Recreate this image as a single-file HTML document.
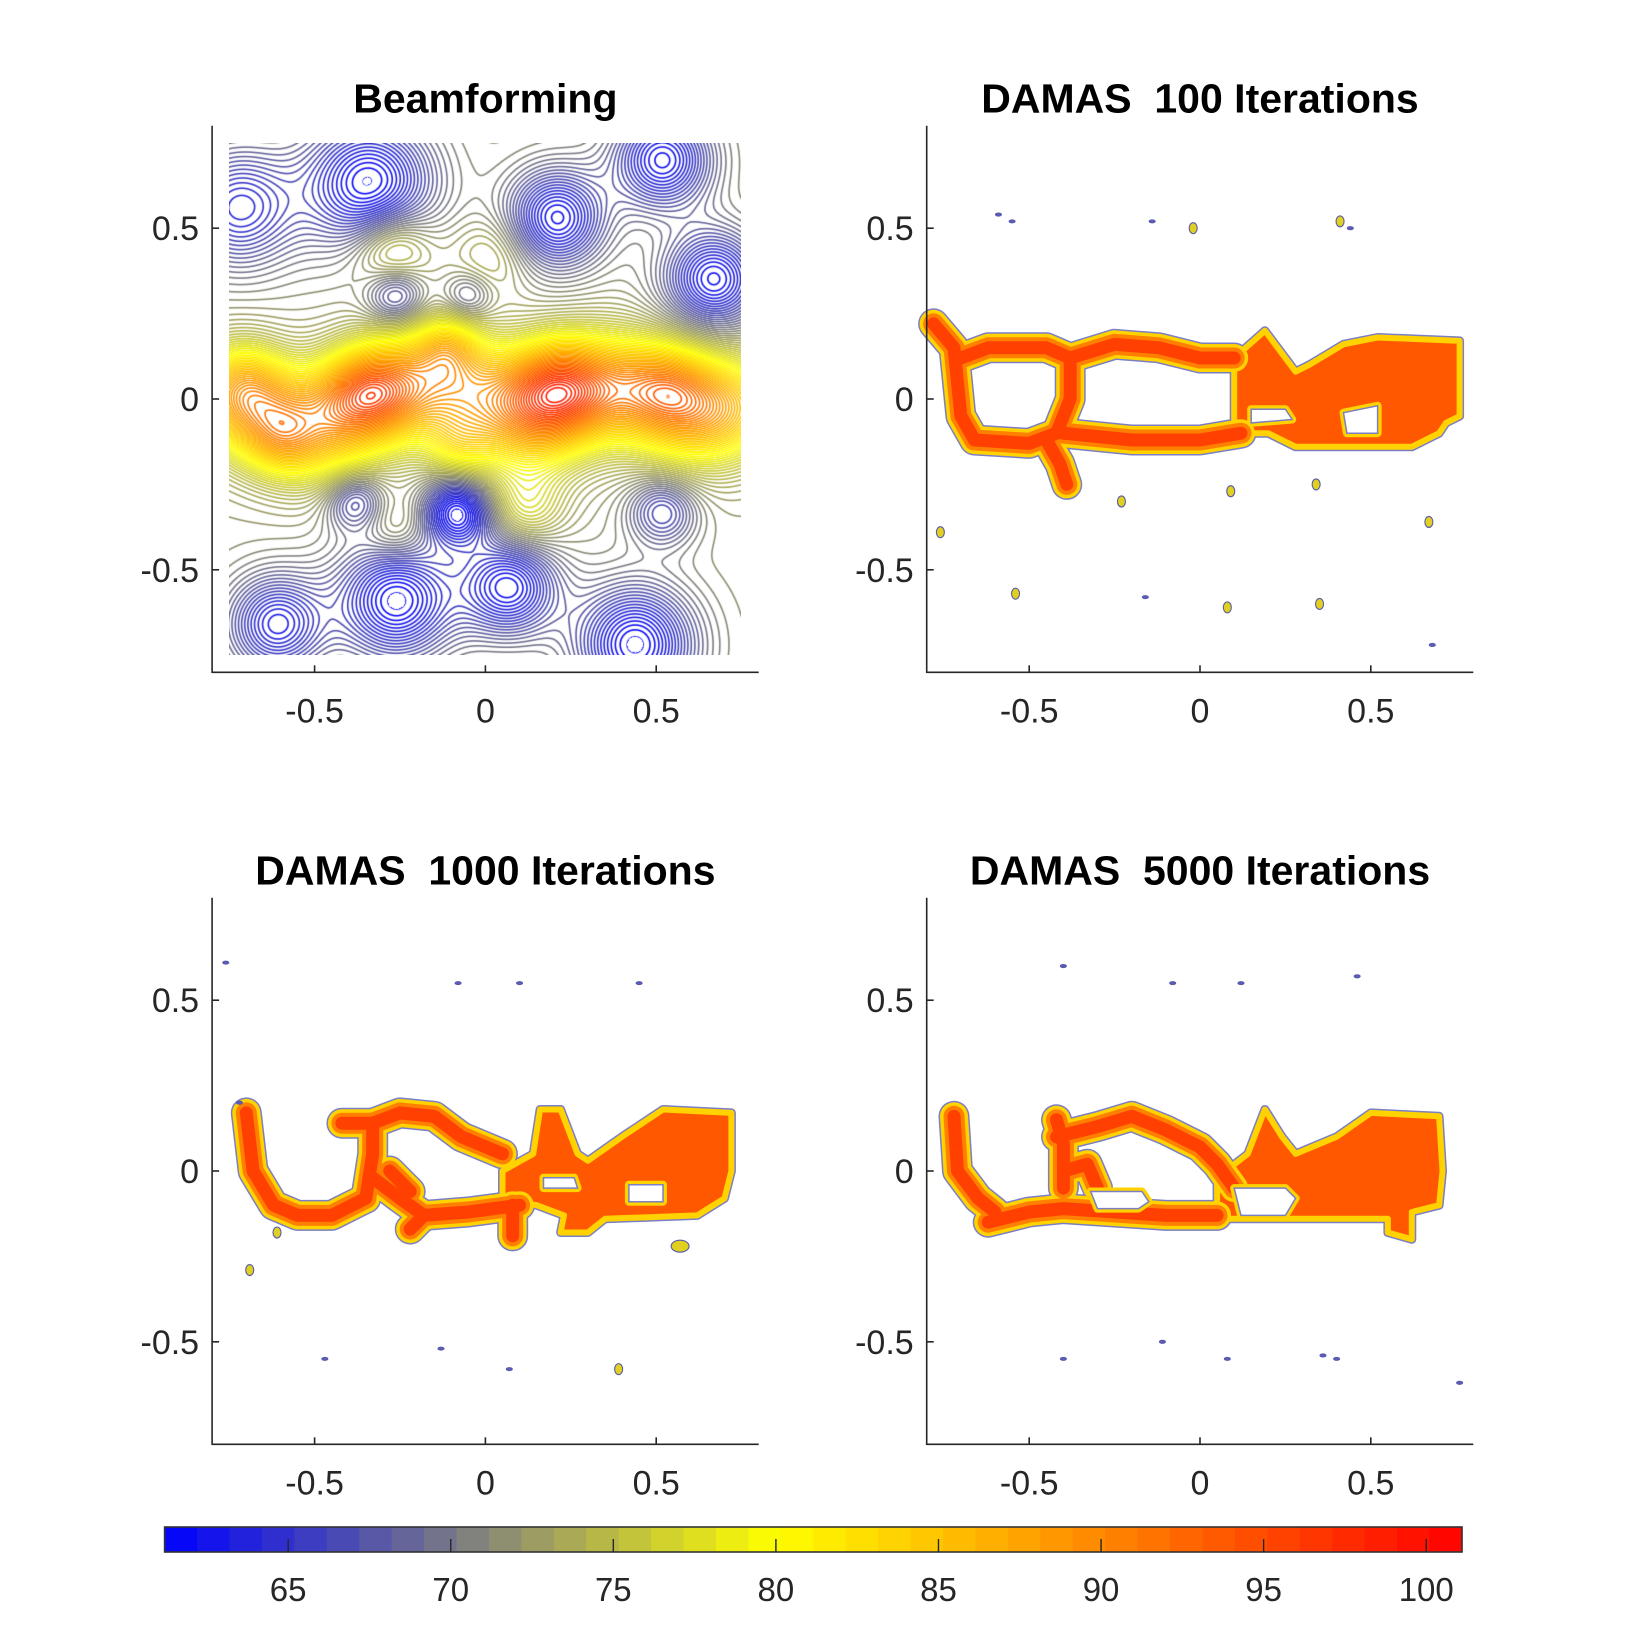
<!DOCTYPE html>
<html><head><meta charset="utf-8"><style>
html,body{margin:0;padding:0;background:#fff;}
#wrap{position:relative;width:1625px;height:1625px;overflow:hidden;font-family:"Liberation Sans",Arial,sans-serif;}
#bf{position:absolute;left:229px;top:143px;}
#svg{position:absolute;left:0;top:0;}
text{white-space:pre;}
</style></head><body>
<div id="wrap">
<canvas id="bf" width="512" height="512"></canvas>
<svg id="svg" width="1625" height="1625"></svg>
</div>
<script>
// ---------- data ----------
const titles = ["Beamforming", "DAMAS  100 Iterations", "DAMAS  1000 Iterations", "DAMAS  5000 Iterations"];
const axisTicks = [-0.5, 0, 0.5];
const axisTickLabels = ["-0.5", "0", "0.5"];
const cbTicks = [65, 70, 75, 80, 85, 90, 95, 100];
const cbMin = 61.2, cbMax = 101.1;
// beamforming sources (x, y, amplitude dB, sigma)
const srcX = [-0.75,-0.625,-0.5,-0.375,-0.25,-0.125,0,0.125,0.25,0.375,0.5,0.625,0.75,
  0.2,-0.345,0.546,-0.70,-0.11,-0.08,-0.6,
  -0.27,0.12,-0.26,0.02,
  -0.34,0.21,0.52,0.67,-0.08,-0.26,0.07,0.44,-0.61,-0.26,-0.38,0.52,-0.72,-0.05];
const srcY = [0.0,-0.05,-0.1,-0.02,0.02,0.08,0.0,-0.08,0.0,0.05,0.0,-0.05,-0.02,
  0.04,0.03,0.04,0.05,0.15,-0.14,-0.12,
  0.44,-0.32,-0.38,0.42,
  0.63,0.53,0.7,0.35,-0.33,-0.59,-0.55,-0.72,-0.66,0.3,-0.3,-0.33,0.56,0.3];
const srcAmp = [8,8,8,8,8,8,8,8,8,8,8,8,8,
  12,9,6,5,5,5,4,
  6,5,3,3,
  -11,-10,-10,-10,-11,-11,-10,-11,-9,-6,-6,-6,-8,-4];
const srcSig = [0.11,0.11,0.11,0.11,0.11,0.11,0.11,0.11,0.11,0.11,0.11,0.11,0.11,
  0.1,0.09,0.09,0.08,0.06,0.07,0.07,
  0.08,0.08,0.07,0.08,
  0.13,0.1,0.1,0.1,0.07,0.12,0.1,0.12,0.1,0.06,0.06,0.07,0.12,0.05];
const baseLevel = 72;

// DAMAS shapes (data coordinates)
const bands100 = [
 [[-0.78,0.22],[-0.72,0.15],[-0.70,-0.05],[-0.66,-0.12],[-0.5,-0.13],[-0.42,-0.1],[-0.38,0.0],[-0.38,0.12],[-0.45,0.15],[-0.62,0.15],[-0.70,0.12]],
 [[-0.38,0.12],[-0.25,0.16],[-0.12,0.15],[0.0,0.12],[0.1,0.12]],
 [[-0.4,-0.1],[-0.2,-0.12],[0.0,-0.12],[0.12,-0.1]],
 [[-0.45,-0.12],[-0.41,-0.19],[-0.39,-0.25]]
];
const blocks100 = [[[0.1,0.12],[0.19,0.2],[0.28,0.08],[0.32,0.1],[0.42,0.16],[0.52,0.18],[0.76,0.17],[0.76,-0.05],[0.72,-0.07],[0.70,-0.1],[0.62,-0.14],[0.28,-0.14],[0.2,-0.1],[0.1,-0.1]]];
const holes100 = [[[0.15,-0.03],[0.25,-0.03],[0.27,-0.06],[0.15,-0.07]],[[0.42,-0.04],[0.52,-0.02],[0.52,-0.1],[0.43,-0.1]]];
const specks100 = [[-0.59,0.54,'b'],[-0.55,0.52,'b'],[-0.14,0.52,'b'],[-0.02,0.5,'y'],[0.41,0.52,'y'],[0.44,0.5,'b'],[-0.23,-0.3,'y'],[0.09,-0.27,'y'],[0.34,-0.25,'y'],[0.67,-0.36,'y'],[-0.76,-0.39,'y'],[-0.54,-0.57,'y'],[-0.16,-0.58,'b'],[0.08,-0.61,'y'],[0.35,-0.6,'y'],[0.68,-0.72,'b']];

const bands1000 = [
 [[-0.70,0.17],[-0.68,0.0],[-0.62,-0.1],[-0.55,-0.13],[-0.45,-0.13],[-0.35,-0.08]],
 [[-0.35,-0.08],[-0.33,0.05],[-0.33,0.14],[-0.25,0.17],[-0.15,0.16],[-0.07,0.1],[0.05,0.05]],
 [[-0.42,0.14],[-0.33,0.14]],
 [[-0.33,-0.02],[-0.25,-0.08],[-0.18,-0.13],[-0.05,-0.12],[0.1,-0.1]],
 [[-0.28,0.0],[-0.22,-0.06]],
 [[-0.18,-0.13],[-0.22,-0.17]],
 [[0.08,-0.1],[0.08,-0.19]]
];
const blocks1000 = [[[0.05,0.0],[0.14,0.05],[0.16,0.18],[0.22,0.18],[0.27,0.05],[0.3,0.03],[0.4,0.1],[0.52,0.18],[0.72,0.17],[0.72,0.0],[0.7,-0.08],[0.62,-0.13],[0.35,-0.14],[0.3,-0.18],[0.22,-0.18],[0.23,-0.13],[0.15,-0.1],[0.05,-0.08]]];
const holes1000 = [[[0.17,-0.02],[0.26,-0.02],[0.27,-0.05],[0.17,-0.05]],[[0.42,-0.04],[0.52,-0.04],[0.52,-0.09],[0.42,-0.09]]];
const specks1000 = [[0.57,-0.22,'Y'],[-0.61,-0.18,'y'],[-0.69,-0.29,'y'],[-0.72,0.2,'b'],[-0.76,0.61,'b'],[-0.08,0.55,'b'],[0.1,0.55,'b'],[0.45,0.55,'b'],[-0.47,-0.55,'b'],[-0.13,-0.52,'b'],[0.07,-0.58,'b'],[0.39,-0.58,'y']];

const bands5000 = [
 [[-0.72,0.16],[-0.71,0.0],[-0.65,-0.08],[-0.6,-0.12]],
 [[-0.62,-0.15],[-0.5,-0.12],[-0.4,-0.11],[-0.25,-0.12],[-0.1,-0.13],[0.05,-0.13]],
 [[-0.4,-0.05],[-0.4,0.08],[-0.42,0.15]],
 [[-0.42,0.1],[-0.3,0.13],[-0.2,0.16],[-0.1,0.12],[0.0,0.07],[0.05,0.02],[0.1,-0.05]],
 [[-0.4,0.0],[-0.33,0.02],[-0.3,-0.05]]
];
const blocks5000 = [[[0.05,-0.13],[0.05,-0.02],[0.14,0.05],[0.19,0.18],[0.24,0.1],[0.28,0.05],[0.4,0.1],[0.5,0.17],[0.7,0.16],[0.71,0.0],[0.7,-0.1],[0.62,-0.12],[0.62,-0.2],[0.55,-0.18],[0.55,-0.14],[0.3,-0.14],[0.05,-0.14]]];
const holes5000 = [[[0.1,-0.05],[0.25,-0.05],[0.28,-0.08],[0.25,-0.13],[0.12,-0.13]],[[-0.32,-0.06],[-0.17,-0.06],[-0.15,-0.09],[-0.18,-0.11],[-0.3,-0.11]]];
const specks5000 = [[-0.4,0.6,'b'],[-0.08,0.55,'b'],[0.12,0.55,'b'],[0.46,0.57,'b'],[-0.4,-0.55,'b'],[-0.11,-0.5,'b'],[0.08,-0.55,'b'],[0.36,-0.54,'b'],[0.4,-0.55,'b'],[0.76,-0.62,'b']];

// ---------- layout ----------
const NS = 'http://www.w3.org/2000/svg';
const svg = document.getElementById('svg');
const cxs = [485.4, 1200, 485.4, 1200], cys = [399, 399, 1171, 1171];
const S = 341.6, H = 273.3;
function X(p, x){ return cxs[p] + x*S; }
function Y(p, y){ return cys[p] - y*S; }
function mk(tag, parent){ const e = document.createElementNS(NS, tag); parent.appendChild(e); return e; }
function cmap(v){
  const t = Math.max(cbMin, Math.min(cbMax, v));
  if (t <= 80){ const a = (t-cbMin)/(80-cbMin); return [255*a, 255*a, 255*(1-a)]; }
  const a = (t-80)/(cbMax-80); return [255, 255*(1-a), 0];
}
function rgb(c){ return 'rgb('+c.map(Math.round).join(',')+')'; }

// ---------- beamforming field ----------
(function(){
  const cv = document.getElementById('bf'), ctx = cv.getContext('2d');
  const N = 512, G = N+1, F = new Float32Array(G*G);
  for (let j=0;j<G;j++){ const y = 0.75 - j/N*1.5;
    for (let i=0;i<G;i++){ const x = -0.75 + i/N*1.5; let v = baseLevel;
      for (let k=0;k<srcX.length;k++){ const dx=x-srcX[k], dy=y-srcY[k], s=srcSig[k];
        v += srcAmp[k]*Math.exp(-(dx*dx+dy*dy)/(2*s*s)); }
      F[j*G+i] = Math.max(cbMin, Math.min(v, 101.4)); } }
  const img = ctx.createImageData(N, N), d = img.data, step = 0.5;
  for (let j=0;j<N;j++) for (let i=0;i<N;i++){
    const a=F[j*G+i], b=F[j*G+i+1], c=F[(j+1)*G+i], e=F[(j+1)*G+i+1];
    const v=(a+b+c+e)/4, gx=(b-a+e-c)/2, gy=(c-a+e-b)/2, g=Math.sqrt(gx*gx+gy*gy)+1e-6;
    const r=(v-cbMin)/step, lv=Math.round(r), dist=Math.abs(r-lv)*step/g;
    let al = Math.max(0, Math.min(1, 1.3-dist));
    if (v > 101.2 || v <= cbMin+0.01) al = 0;
    const col = cmap(cbMin+lv*step), o=(j*N+i)*4;
    d[o]=255+(col[0]-255)*al; d[o+1]=255+(col[1]-255)*al; d[o+2]=255+(col[2]-255)*al; d[o+3]=255;
  }
  ctx.putImageData(img,0,0);
})();

// ---------- DAMAS ----------
function pts(p, arr){ return arr.map(q => X(p,q[0]).toFixed(1)+','+Y(p,q[1]).toFixed(1)).join(' '); }
function drawDamas(p, bands, blocks, holes, specks, name){
  const g = mk('g', svg);
  
  
  const W = 28;
  const layers = [['#7b7fc4', W+3, 9], ['#ffd200', W, 6], ['#ff8000', W-7, 0], ['#ff4000', W-15, 0]];
  layers.forEach((L, li) => {
    blocks.forEach(b => { if (!L[2]) return;
      const e = mk('polygon', g);
      
      
      e.setAttribute('points', pts(p,b)); e.setAttribute('stroke', L[0]); e.setAttribute('stroke-width', L[2]);
      e.setAttribute('stroke-linejoin','round'); e.setAttribute('fill', li===0 ? L[0] : '#ff5800'); });
    bands.forEach(b => {
      const e = mk('polyline', g);
      
      
      e.setAttribute('points', pts(p,b)); e.setAttribute('stroke', L[0]); e.setAttribute('stroke-width', L[1]);
      e.setAttribute('stroke-linejoin','round'); e.setAttribute('stroke-linecap','round'); e.setAttribute('fill','none'); });
  });
  holes.forEach(h => {
    const e1 = mk('polygon', g);
    
    
    e1.setAttribute('points', pts(p,h)); e1.setAttribute('fill','none'); e1.setAttribute('stroke','#ffd200'); e1.setAttribute('stroke-width',8); e1.setAttribute('stroke-linejoin','round');
    const e2 = mk('polygon', g);
    
    
    e2.setAttribute('points', pts(p,h)); e2.setAttribute('fill','#fff'); e2.setAttribute('stroke','#7b7fc4'); e2.setAttribute('stroke-width',1.5);
  });
  specks.forEach(s => {
    const e = mk('ellipse', g);
    
    
    const big = s[2]==='Y';
    e.setAttribute('cx', X(p,s[0])); e.setAttribute('cy', Y(p,s[1]));
    e.setAttribute('rx', big?9:(s[2]==='y'?4:3)); e.setAttribute('ry', big?6:(s[2]==='y'?5.5:1.5));
    e.setAttribute('fill', s[2]==='b' ? '#5a5ac0' : '#e0d020'); e.setAttribute('stroke','#5a5aa8'); e.setAttribute('stroke-width',1.1);
  });
}
drawDamas(1, bands100, blocks100, holes100, specks100, 'damas-100');
drawDamas(2, bands1000, blocks1000, holes1000, specks1000, 'damas-1000');
drawDamas(3, bands5000, blocks5000, holes5000, specks5000, 'damas-5000');

// ---------- axes ----------
for (let p=0;p<4;p++){
  const L = cxs[p]-H, R = cxs[p]+H, T = cys[p]-H, B = cys[p]+H;
  const ax = mk('g', svg);
  
  
  const yl = mk('line', ax);
  
  
  yl.setAttribute('x1',L); yl.setAttribute('x2',L); yl.setAttribute('y1',T); yl.setAttribute('y2',B+0.7); yl.setAttribute('stroke','#262626'); yl.setAttribute('stroke-width',1.6);
  const xl = mk('line', ax);
  
  
  xl.setAttribute('x1',L); xl.setAttribute('x2',R); xl.setAttribute('y1',B); xl.setAttribute('y2',B); xl.setAttribute('stroke','#262626'); xl.setAttribute('stroke-width',1.6);
  axisTicks.forEach((t, k) => {
    const tx = mk('line', ax);
    
    
    tx.setAttribute('x1',X(p,t)); tx.setAttribute('x2',X(p,t)); tx.setAttribute('y1',B); tx.setAttribute('y2',B-7); tx.setAttribute('stroke','#262626'); tx.setAttribute('stroke-width',1.6);
    const ty = mk('line', ax);
    
    
    ty.setAttribute('x1',L); ty.setAttribute('x2',L+7); ty.setAttribute('y1',Y(p,t)); ty.setAttribute('y2',Y(p,t)); ty.setAttribute('stroke','#262626'); ty.setAttribute('stroke-width',1.6);
    const lx = mk('text', ax);
    
    
    lx.setAttribute('x', X(p,t)); lx.setAttribute('y', B+50); lx.setAttribute('text-anchor','middle');
    lx.setAttribute('font-size','34'); lx.setAttribute('fill','#262626'); lx.textContent = axisTickLabels[k];
    const ly = mk('text', ax);
    
    
    ly.setAttribute('x', L-13); ly.setAttribute('y', Y(p,t)+12); ly.setAttribute('text-anchor','end');
    ly.setAttribute('font-size','34'); ly.setAttribute('fill','#262626'); ly.textContent = axisTickLabels[k];
  });
  const tt = mk('text', ax);
  
  
  tt.setAttribute('x', cxs[p]); tt.setAttribute('y', T-13); tt.setAttribute('text-anchor','middle');
  tt.setAttribute('font-size','41'); tt.setAttribute('font-weight','bold'); tt.setAttribute('fill','#000'); tt.textContent = titles[p];
}

// ---------- colorbar ----------
(function(){
  const x0=164.6, x1=1462, y0=1527, y1=1552;
  const cb = mk('g', svg);
  
  
  const n = 40, w = (x1-x0)/n;
  for (let k=0;k<n;k++){
    const r = mk('rect', cb);
    
    
    r.setAttribute('x', x0+k*w); r.setAttribute('y', y0); r.setAttribute('width', w+0.6); r.setAttribute('height', y1-y0);
    r.setAttribute('fill', rgb(cmap(cbMin + (k+0.5)*(cbMax-cbMin)/n)));
  }
  const bd = mk('rect', cb);
  
  
  bd.setAttribute('x', x0); bd.setAttribute('y', y0); bd.setAttribute('width', x1-x0); bd.setAttribute('height', y1-y0);
  bd.setAttribute('fill','none'); bd.setAttribute('stroke','#333'); bd.setAttribute('stroke-width',1.6);
  const CX = v => x0 + (v-cbMin)/(cbMax-cbMin)*(x1-x0);
  cbTicks.forEach(t => {
    const l = mk('line', cb);
    
    
    l.setAttribute('x1',CX(t)); l.setAttribute('x2',CX(t)); l.setAttribute('y1',y1); l.setAttribute('y2',y1-13); l.setAttribute('stroke','#262626'); l.setAttribute('stroke-width',1.4);
    const tx = mk('text', cb);
    
    
    tx.setAttribute('x', CX(t)); tx.setAttribute('y', 1601); tx.setAttribute('text-anchor','middle');
    tx.setAttribute('font-size','33'); tx.setAttribute('fill','#262626'); tx.textContent = String(t);
  });
})();
</script>
</body></html>
